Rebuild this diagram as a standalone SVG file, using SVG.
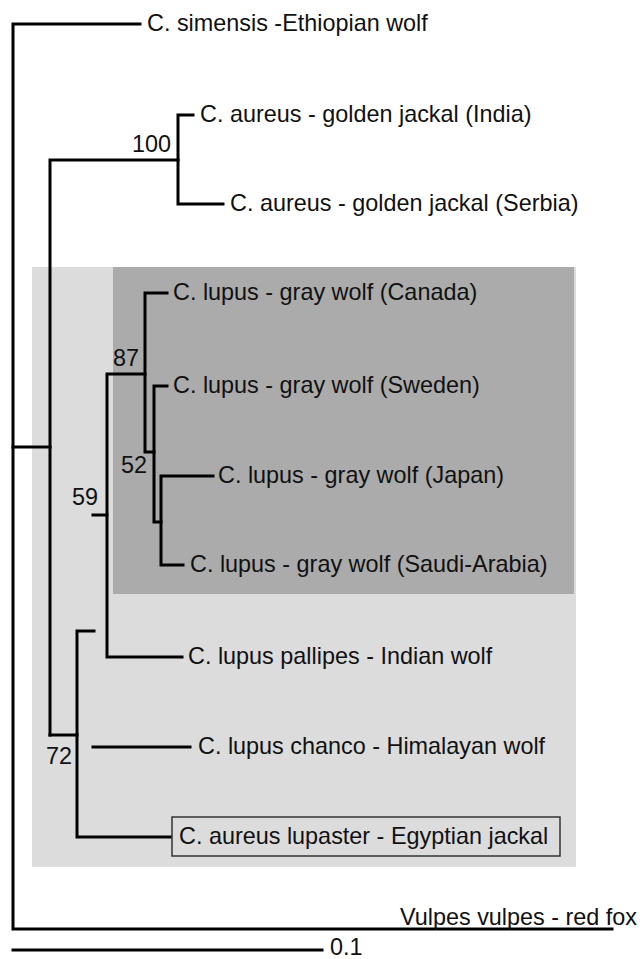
<svg xmlns="http://www.w3.org/2000/svg" width="642" height="959" viewBox="0 0 642 959">
<style>
.br{fill:none;stroke:#000;stroke-width:3;stroke-linecap:square;stroke-linejoin:miter}
.t{font-family:"Liberation Sans",Arial,sans-serif;font-size:23.4px;fill:#111}
.bs{font-family:"Liberation Sans",Arial,sans-serif;font-size:23.4px;fill:#111;text-anchor:end}
</style>
<rect width="642" height="959" fill="#fff"/>
<g id="clade-light"><rect x="32" y="267" width="544" height="600" fill="#dcdcdc"/></g>
<g id="clade-dark"><rect x="113" y="267" width="461" height="327" fill="#ababab"/></g>
<g id="connectors">
<path class="br" d="M140,24 H13 V929 H612"/>
<path class="br" d="M13,447 H50"/>
<path class="br" d="M50,735 V160 H178"/>
<path class="br" d="M193,115 H178 V204 H223"/>
<path class="br" d="M50,735 H77"/>
<path class="br" d="M94,631 H77 V837 H172"/>
<path class="br" d="M93,747 H190"/>
<path class="br" d="M93,515 H107"/>
<path class="br" d="M182,657 H107 V374 H145"/>
<path class="br" d="M167,293 H145 V452 H154"/>
<path class="br" d="M167,386 H154 V522 H161"/>
<path class="br" d="M213,476 H161 V565 H183"/>
<path class="br" d="M13,950 H322"/>
</g>
<g id="n-simensis"><text class="t" x="147" y="31">C. simensis -Ethiopian wolf</text></g>
<g id="n-aureus-india"><text class="t" x="200" y="122">C. aureus - golden jackal (India)</text></g>
<g id="n-aureus-serbia"><text class="t" x="230" y="211">C. aureus - golden jackal (Serbia)</text></g>
<g id="n-lupus-canada"><text class="t" x="173" y="300">C. lupus - gray wolf (Canada)</text></g>
<g id="n-lupus-sweden"><text class="t" x="173" y="393">C. lupus - gray wolf (Sweden)</text></g>
<g id="n-lupus-japan"><text class="t" x="218" y="483">C. lupus - gray wolf (Japan)</text></g>
<g id="n-lupus-saudi"><text class="t" x="190" y="572">C. lupus - gray wolf (Saudi-Arabia)</text></g>
<g id="n-pallipes"><text class="t" x="188" y="664">C. lupus pallipes - Indian wolf</text></g>
<g id="n-chanco"><text class="t" x="198" y="754">C. lupus chanco - Himalayan wolf</text></g>
<g id="n-lupaster"><rect x="172" y="817" width="388" height="39" fill="#dcdcdc" stroke="#333" stroke-width="1.5"/><text class="t" x="179" y="844">C. aureus lupaster - Egyptian jackal</text></g>
<g id="n-vulpes"><text class="t" x="400" y="925">Vulpes vulpes - red fox</text></g>
<g id="bootstrap">
<text class="bs" x="171" y="152">100</text>
<text class="bs" x="139" y="366">87</text>
<text class="bs" x="147" y="473">52</text>
<text class="bs" x="98" y="505">59</text>
<text class="bs" x="72" y="764">72</text>
</g>
<g id="scale"><text class="t" x="330" y="955">0.1</text></g>
</svg>
